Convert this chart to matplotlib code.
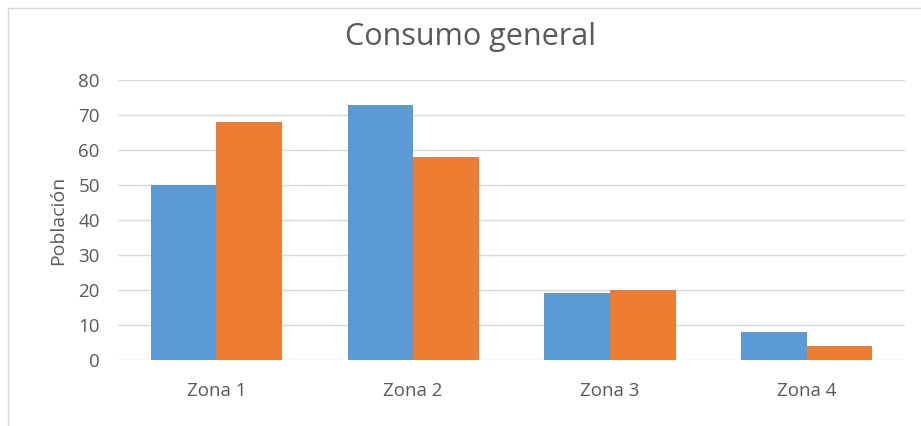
import matplotlib.pyplot as plt
from matplotlib.lines import Line2D
import numpy as np

categories = ['Zona 1', 'Zona 2', 'Zona 3', 'Zona 4']
serie1 = [50, 73, 19, 8]
serie2 = [68, 58, 20, 4]
yticks = [0, 10, 20, 30, 40, 50, 60, 70, 80]

plt.rcParams['font.family'] = ['Open Sans', 'DejaVu Sans']
gray = '#595959'

fig = plt.figure(figsize=(9.21, 4.26), dpi=100)
ax = fig.add_axes([0.128, 0.155, 0.855, 0.657])

x = np.arange(len(categories))
w = 0.333
ax.bar(x - w / 2, serie1, w, color='#5B9BD5', zorder=3)
ax.bar(x + w / 2, serie2, w, color='#ED7D31', zorder=3)

ax.set_xlim(-0.5, len(categories) - 0.5)
ax.set_ylim(0, 80)
ax.set_yticks(yticks)
ax.set_xticks(x)
ax.set_xticklabels(categories)
ax.tick_params(axis='both', length=0, colors=gray, labelsize=13.5)
ax.tick_params(axis='x', pad=16)
ax.tick_params(axis='y', pad=13)
for s in ax.spines.values():
    s.set_visible(False)
ax.grid(axis='y', color='#D9D9D9', linewidth=1, zorder=0)
ax.set_ylabel('Población', color=gray, fontsize=14, labelpad=8)

fig.text(0.511, 0.912, 'Consumo general', ha='center', va='center', fontsize=22, color=gray)

# marco del grafico
fig.add_artist(Line2D([8 / 921, 8 / 921], [0, 1 - 8 / 426], color='#D9D9D9', lw=1))
fig.add_artist(Line2D([8 / 921, 1], [1 - 8 / 426, 1 - 8 / 426], color='#D9D9D9', lw=1))

fig.savefig('out.png', dpi=100)
